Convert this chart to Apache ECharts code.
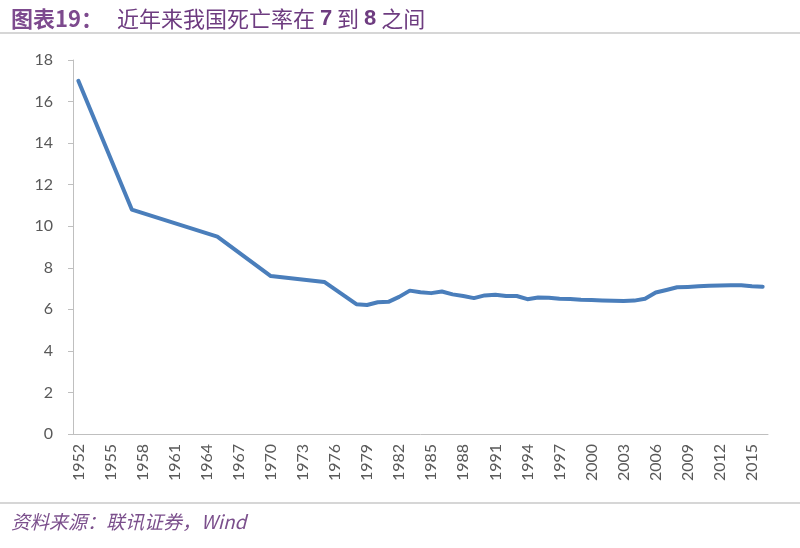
<!DOCTYPE html>
<html>
<head>
<meta charset="utf-8">
<script src="https://cdn.jsdelivr.net/npm/echarts@6/dist/echarts.min.js"></script>
<style>
  html, body { margin: 0; padding: 0; background: #fff; }
  #chart { width: 800px; height: 548px; }
</style>
</head>
<body>
<div id="chart"></div>
<script>
// years on the category axis
const years = [];
for (let y = 1952; y <= 2016; y++) years.push(String(y));

// crude death rate (per 1000), only years that appear as kinks in the chart
const knownRates = {
  1952: 17.00, 1957: 10.80, 1965: 9.50, 1970: 7.60, 1975: 7.32,
  1978: 6.25, 1979: 6.21, 1980: 6.34, 1981: 6.36, 1982: 6.60, 1983: 6.90,
  1984: 6.82, 1985: 6.78, 1986: 6.86, 1987: 6.72, 1988: 6.64, 1989: 6.54,
  1990: 6.67, 1991: 6.70, 1992: 6.64, 1993: 6.64, 1994: 6.49, 1995: 6.57,
  1996: 6.56, 1997: 6.51, 1998: 6.50, 1999: 6.46, 2000: 6.45, 2001: 6.43,
  2002: 6.41, 2003: 6.40, 2004: 6.42, 2005: 6.51, 2006: 6.81, 2007: 6.93,
  2008: 7.06, 2009: 7.08, 2010: 7.11, 2011: 7.14, 2012: 7.15, 2013: 7.16,
  2014: 7.16, 2015: 7.11, 2016: 7.09
};
const deathRate = years.map(y => (knownRates[y] !== undefined ? knownRates[y] : null));

const yMin = 0;
const yMax = 18;
const yStep = 2;

const titleMain = '图表19：';
const sourceText = '资料来源：联讯证券，Wind';

const chart = echarts.init(document.getElementById('chart'));
chart.setOption({
  backgroundColor: '#fff',
  animation: false,
  title: [
    {
      text: titleMain,
      left: 6,
      top: 3,
      textStyle: {
        color: '#7d4a8e',
        fontSize: 22,
        fontWeight: 'bold',
        fontFamily: 'Noto Sans CJK SC'
      }
    },
    {
      // sub title with bold numbers
      text: '{t|近年来我国死亡率在 }{n|7}{t| 到 }{n|8}{t| 之间}',
      left: 112,
      top: 3,
      textStyle: {
        rich: {
          t: {
            color: '#6e3c80',
            fontSize: 22,
            fontWeight: 'normal',
            fontFamily: 'Noto Sans CJK SC'
          },
          n: {
            color: '#6e3c80',
            fontSize: 22,
            fontWeight: 'bold',
            fontFamily: 'Liberation Sans'
          }
        }
      }
    },
    {
      text: sourceText,
      left: 6,
      top: 507,
      textStyle: {
        color: '#7b4f8c',
        fontSize: 19,
        fontStyle: 'italic',
        fontWeight: 'normal',
        fontFamily: 'Noto Sans CJK SC'
      }
    }
  ],
  graphic: [
    {
      type: 'line',
      shape: { x1: 0, y1: 33, x2: 800, y2: 33 },
      style: { stroke: '#c8c8c8', lineWidth: 1.5 }
    },
    {
      type: 'line',
      shape: { x1: 0, y1: 503, x2: 800, y2: 503 },
      style: { stroke: '#c8c8c8', lineWidth: 1.5 }
    }
  ],
  grid: {
    left: 73,
    right: 32,
    top: 60,
    bottom: 114
  },
  xAxis: {
    type: 'category',
    data: years,
    boundaryGap: true,
    axisLine: { lineStyle: { color: '#bfbfbf', width: 1 } },
    axisTick: {
      interval: 2,
      length: 5,
      lineStyle: { color: '#bfbfbf' }
    },
    axisLabel: {
      interval: 2,
      rotate: 90,
      margin: 10,
      color: '#595959',
      fontSize: 16,
      fontFamily: 'Lato'
    },
    splitLine: { show: false }
  },
  yAxis: {
    type: 'value',
    min: yMin,
    max: yMax,
    interval: yStep,
    axisLine: { show: true, lineStyle: { color: '#bfbfbf', width: 1 } },
    axisTick: { show: true, length: 5, lineStyle: { color: '#bfbfbf' } },
    axisLabel: {
      margin: 20,
      color: '#595959',
      fontSize: 16,
      fontFamily: 'Lato'
    },
    splitLine: { show: false }
  },
  series: [
    {
      name: '死亡率',
      type: 'line',
      data: deathRate,
      connectNulls: true,
      showSymbol: false,
      symbol: 'none',
      lineStyle: { color: '#4a7ebb', width: 4, join: 'round', cap: 'round' },
      itemStyle: { color: '#4a7ebb' }
    }
  ]
});
</script>
</body>
</html>
